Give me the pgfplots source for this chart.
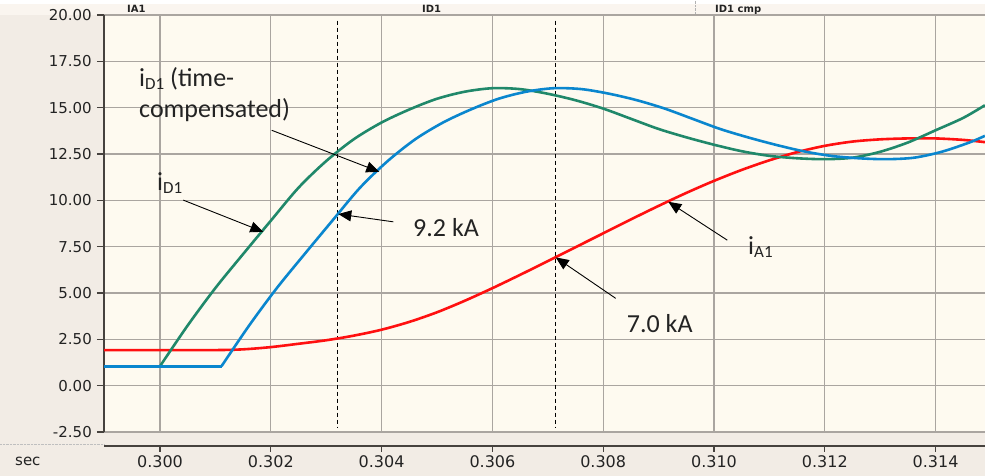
\documentclass[border=0pt]{standalone}
\usepackage{pgfplots}
\pgfplotsset{compat=1.18}
\usepackage{fontspec}
\setmainfont{Carlito}
\newfontfamily\tickfont{DejaVu Sans}
\usetikzlibrary{arrows.meta}
\definecolor{outerbg}{RGB}{242,236,229}
\definecolor{bandbg}{RGB}{250,245,239}
\definecolor{plotbg}{RGB}{254,250,240}
\definecolor{gridgray}{RGB}{170,165,160}
\definecolor{axisdark}{RGB}{70,66,62}
\definecolor{tickcol}{RGB}{35,35,35}
\definecolor{cgreen}{RGB}{32,136,106}
\definecolor{cblue}{RGB}{10,134,206}
\definecolor{cred}{RGB}{255,16,16}
\newcommand{\annfont}{\fontsize{26}{30}\selectfont}
\newcommand{\subs}[1]{\raisebox{-3pt}{\fontsize{17}{17}\selectfont #1}}
\begin{document}
\begin{tikzpicture}[x=1pt,y=1pt]
\fill[outerbg] (0,0) rectangle (985,476);
\fill[white] (0,472) rectangle (985,476);
\fill[bandbg] (0,461) rectangle (985,472);
\draw[gray!60,densely dotted] (695,461) -- (695,476);
\draw[gray!50,densely dotted] (0,31.5) -- (104,31.5);
\node[anchor=base west,inner sep=0pt,font=\tickfont\bfseries\fontsize{10}{10}\selectfont,text=tickcol] at (127,463.5) {IA1};
\node[anchor=base west,inner sep=0pt,font=\tickfont\bfseries\fontsize{10}{10}\selectfont,text=tickcol] at (422,463.5) {ID1};
\node[anchor=base west,inner sep=0pt,font=\tickfont\bfseries\fontsize{10}{10}\selectfont,text=tickcol] at (715,463.5) {\underline{ID1 cmp}};
\node[anchor=base west,inner sep=0pt,font=\tickfont\fontsize{15}{15}\selectfont,text=tickcol] at (15,10) {sec};
\begin{axis}[
  at={(104pt,44pt)}, anchor=south west,
  scale only axis, width=881pt, height=417pt,
  xmin=0.298989, xmax=0.314892, ymin=-2.5, ymax=20,
  axis background/.style={fill=plotbg},
  separate axis lines,
  axis y line*=left,
  x axis line style={draw=gridgray,line width=1.2pt,-},
  y axis line style={draw=axisdark,line width=1.8pt,-},
  scaled ticks=false,
  xtick={0.300,0.302,0.304,0.306,0.308,0.310,0.312,0.314},
  xticklabels={,,,,,,,},
  xtick style={draw=none},
  ytick={-2.5,0,2.5,5,7.5,10,12.5,15,17.5,20},
  yticklabels={-2.50,0.00,2.50,5.00,7.50,10.00,12.50,15.00,17.50,20.00},
  ytick style={draw=axisdark,line width=1.2pt},
  tick align=outside,
  major tick length=7pt,
  yticklabel style={font=\tickfont\fontsize{15}{15}\selectfont,text=tickcol,inner sep=0pt,anchor=east,xshift=-5pt},
  grid=major,
  major grid style={draw=gridgray,line width=1.2pt},
]
% dashed markers
\addplot[black,line width=0.8pt,dash pattern=on 4pt off 3pt] coordinates {(0.30321,19.7) (0.30321,-2.25)};
\addplot[black,line width=0.8pt,dash pattern=on 4pt off 3pt] coordinates {(0.30713,19.7) (0.30713,-2.25)};
% iA1
\addplot[cred,line width=2.6pt,smooth] table {
t v
0.298989 1.92
0.30000 1.92
0.30100 1.92
0.30150 1.96
0.30200 2.08
0.30250 2.26
0.30300 2.45
0.30350 2.70
0.30400 3.02
0.30450 3.44
0.30500 3.96
0.30550 4.58
0.30600 5.26
0.30650 5.98
0.30700 6.72
0.30750 7.47
0.30800 8.22
0.30850 8.97
0.30900 9.70
0.30950 10.40
0.31000 11.05
0.31050 11.64
0.31100 12.16
0.31150 12.60
0.31200 12.94
0.31250 13.17
0.31300 13.29
0.31350 13.34
0.31400 13.34
0.31450 13.26
0.31489 13.14
};
% iD1
\addplot[cgreen,line width=2.6pt] coordinates {(0.298989,1.05) (0.30000,1.05)};
\addplot[cgreen,line width=2.6pt,smooth] table {
t v
0.30000 1.05
0.30050 3.25
0.30100 5.27
0.30150 7.10
0.30200 8.90
0.30250 10.68
0.30300 12.12
0.30350 13.30
0.30400 14.20
0.30450 14.90
0.30500 15.48
0.30550 15.86
0.30600 16.05
0.30650 16.00
0.30700 15.75
0.30750 15.40
0.30800 14.95
0.30850 14.40
0.30900 13.85
0.30950 13.40
0.31000 13.00
0.31050 12.65
0.31100 12.40
0.31150 12.27
0.31200 12.22
0.31250 12.30
0.31300 12.62
0.31350 13.12
0.31400 13.78
0.31450 14.45
0.31489 15.13
};
% iD1 time-compensated
\addplot[cblue,line width=2.6pt] coordinates {(0.298989,1.05) (0.30111,1.05)};
\addplot[cblue,line width=2.6pt,smooth] table {
t v
0.30111 1.05
0.30161 3.25
0.30211 5.27
0.30261 7.10
0.30311 8.90
0.30361 10.68
0.30411 12.12
0.30461 13.30
0.30511 14.20
0.30561 14.90
0.30611 15.48
0.30661 15.86
0.30711 16.05
0.30761 16.00
0.30811 15.75
0.30861 15.40
0.30911 14.95
0.30961 14.40
0.31011 13.85
0.31061 13.40
0.31111 13.00
0.31161 12.65
0.31211 12.40
0.31261 12.27
0.31311 12.22
0.31361 12.30
0.31411 12.62
0.31461 13.12
0.31489 13.48
};
% annotations
\node[anchor=base west,inner sep=0pt,font=\annfont,text=tickcol] at (axis cs:0.299621,16.16) {i\subs{D1} (time-};
\node[anchor=base west,inner sep=0pt,font=\annfont,text=tickcol] at (axis cs:0.299621,14.47) {compensated)};
\node[anchor=base west,inner sep=0pt,font=\annfont,text=tickcol] at (axis cs:0.299946,10.51) {i\subs{D1}};
\node[anchor=base west,inner sep=0pt,font=\annfont,text=tickcol] at (axis cs:0.304567,8.03) {9.2 kA};
\node[anchor=base west,inner sep=0pt,font=\annfont,text=tickcol] at (axis cs:0.308424,2.86) {7.0 kA};
\node[anchor=base west,inner sep=0pt,font=\annfont,text=tickcol] at (axis cs:0.310614,7.10) {i\subs{A1}};
\draw[black,line width=0.9pt,-{Triangle[length=13pt,width=11pt]}] (axis cs:0.302016,13.78) -- (axis cs:0.303958,11.54);
\draw[black,line width=0.9pt,-{Triangle[length=13pt,width=11pt]}] (axis cs:0.300421,10.01) -- (axis cs:0.301865,8.30);
\draw[black,line width=0.9pt,-{Triangle[length=13pt,width=11pt]}] (axis cs:0.304211,8.84) -- (axis cs:0.303218,9.26);
\draw[black,line width=0.9pt,-{Triangle[length=13pt,width=11pt]}] (axis cs:0.308226,4.71) -- (axis cs:0.307143,6.92);
\draw[black,line width=0.9pt,-{Triangle[length=13pt,width=11pt]}] (axis cs:0.31024,7.85) -- (axis cs:0.309175,9.92);
\end{axis}
\begin{axis}[
  at={(104pt,30pt)}, anchor=south west,
  scale only axis, width=881pt, height=5pt,
  xmin=0.298989, xmax=0.314892, ymin=0, ymax=1,
  axis x line*=bottom, axis y line=none,
  x axis line style={draw=axisdark,line width=1.8pt,-},
  xtick={0.300,0.302,0.304,0.306,0.308,0.310,0.312,0.314},
  xticklabels={0.300,0.302,0.304,0.306,0.308,0.310,0.312,0.314},
  ytick=\empty,
  scaled ticks=false,
  tick align=outside,
  major tick length=6pt,
  xtick style={draw=axisdark,line width=1.2pt},
  xticklabel style={font=\tickfont\fontsize{16}{16}\selectfont,text=tickcol,inner sep=0pt,anchor=north,yshift=-3pt},
]
\addplot[draw=none] coordinates {(0.300,0.5) (0.314,0.5)};
\end{axis}
\pgfresetboundingbox
\useasboundingbox (0,0) rectangle (985,476);
\end{tikzpicture}
\end{document}
